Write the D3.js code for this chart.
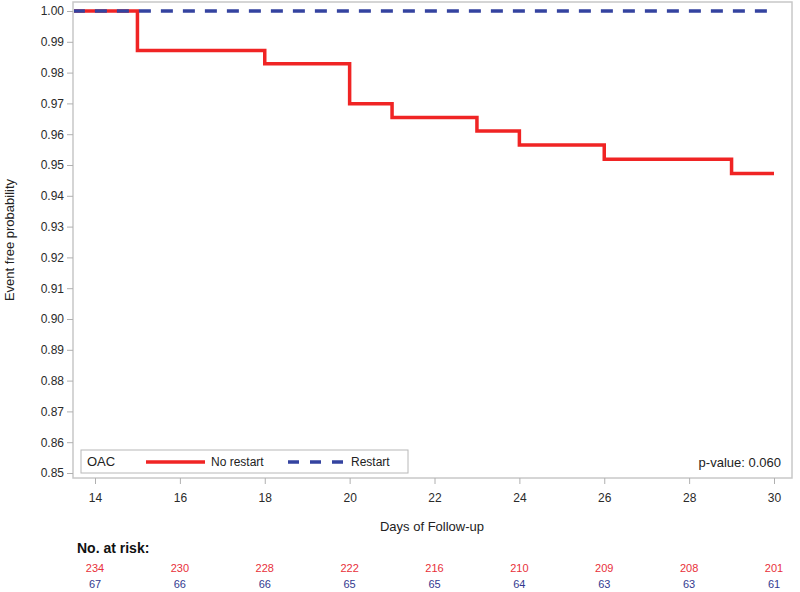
<!DOCTYPE html>
<html><head><meta charset="utf-8">
<script src="https://cdn.jsdelivr.net/npm/d3@7"></script>
<style>body{margin:0;background:#fff;} text{font-family:"Liberation Sans",Arial,sans-serif;}</style>
</head><body>
<svg id="c" width="800" height="592"></svg>
<script>
// Data
const noRestartTimes = [0, 15, 18, 20, 21, 23, 24, 26, 29, 30];
const noRestartSurv  = [1.0, 0.9872, 0.9829, 0.9699, 0.9654, 0.9610, 0.9565, 0.9519, 0.9472, 0.9472];
const restartTimes = [0, 30];
const restartSurv  = [1.0, 1.0];
const xTicks = [14, 16, 18, 20, 22, 24, 26, 28, 30];
const yTicks = [0.85,0.86,0.87,0.88,0.89,0.90,0.91,0.92,0.93,0.94,0.95,0.96,0.97,0.98,0.99,1.00];
const riskNoRestart = [234, 230, 228, 222, 216, 210, 209, 208, 201];
const riskRestart   = [67, 66, 66, 65, 65, 64, 63, 63, 61];

const svg = d3.select("#c");
const pL = 73, pR = 792, pT = 2, pB = 478;
const x = d3.scaleLinear().domain([14, 30]).range([95, 774]);
const y = d3.scaleLinear().domain([0.85, 1.0]).range([473, 11]);

const red = "#f02424", blue = "#3443a0";

svg.append("defs").append("clipPath").attr("id", "clip")
  .append("rect").attr("x", pL + 1).attr("y", pT).attr("width", pR - pL - 1).attr("height", pB - pT);

// frame
svg.append("rect").attr("x", pL).attr("y", pT).attr("width", pR-pL).attr("height", pB-pT)
  .attr("fill", "none").attr("stroke", "#c8c8c8").attr("stroke-width", 1.5);

// y axis
const yAxis = d3.axisLeft(y).tickValues(yTicks).tickFormat(d3.format(".2f")).tickSize(6).tickPadding(3);
const gy = svg.append("g").attr("transform", `translate(${pL},0)`).call(yAxis);
gy.select(".domain").remove();
gy.selectAll(".tick line").attr("stroke", "#b0b0b0");
gy.selectAll(".tick text").attr("font-size", 12).attr("fill", "#2a2a2a").style("font-family", "'Liberation Sans',Arial,sans-serif");

// x axis
const xAxis = d3.axisBottom(x).tickValues(xTicks).tickFormat(d3.format("d")).tickSize(6).tickPadding(9);
const gx = svg.append("g").attr("transform", `translate(0,${pB})`).call(xAxis);
gx.select(".domain").remove();
gx.selectAll(".tick line").attr("stroke", "#b0b0b0");
gx.selectAll(".tick text").attr("font-size", 12).attr("fill", "#2a2a2a").style("font-family", "'Liberation Sans',Arial,sans-serif");

// axis titles
svg.append("text").attr("x", 432).attr("y", 531).attr("text-anchor", "middle")
  .attr("font-size", 13).attr("fill", "#222").text("Days of Follow-up");
svg.append("text").attr("transform", "translate(14,240) rotate(-90)").attr("text-anchor", "middle")
  .attr("font-size", 13).attr("fill", "#222").text("Event free probability");

// curves
const line = d3.line().x(d => x(d[0])).y(d => y(d[1])).curve(d3.curveStepAfter);
const gc = svg.append("g").attr("clip-path", "url(#clip)");
gc.append("path").datum(noRestartTimes.map((t,i)=>[t, noRestartSurv[i]]))
  .attr("d", line).attr("fill", "none").attr("stroke", red).attr("stroke-width", 3.5);
gc.append("path").datum(restartTimes.map((t,i)=>[t, restartSurv[i]]))
  .attr("d", line).attr("fill", "none").attr("stroke", blue).attr("stroke-width", 3.5)
  .attr("stroke-dasharray", "12,10").attr("stroke-dashoffset", 0);

// legend
const lg = svg.append("g");
lg.append("rect").attr("x", 81).attr("y", 450).attr("width", 327).attr("height", 23)
  .attr("fill", "#fff").attr("stroke", "#b8b8b8").attr("stroke-width", 1);
lg.append("text").attr("x", 87).attr("y", 466).attr("font-size", 13).attr("fill", "#222").text("OAC");
lg.append("line").attr("x1", 146).attr("x2", 205).attr("y1", 462).attr("y2", 462)
  .attr("stroke", red).attr("stroke-width", 3.5);
lg.append("text").attr("x", 211).attr("y", 466).attr("font-size", 12).attr("fill", "#222").text("No restart");
lg.append("line").attr("x1", 288).attr("x2", 344).attr("y1", 462).attr("y2", 462)
  .attr("stroke", blue).attr("stroke-width", 3.5).attr("stroke-dasharray", "11,11");
lg.append("text").attr("x", 351).attr("y", 466).attr("font-size", 12).attr("fill", "#222").text("Restart");

// p-value
svg.append("text").attr("x", 781).attr("y", 467).attr("text-anchor", "end")
  .attr("font-size", 13).attr("fill", "#222").text("p-value: 0.060");

// at risk
svg.append("text").attr("x", 77).attr("y", 553).attr("font-size", 14).attr("font-weight", "bold")
  .attr("fill", "#111").text("No. at risk:");
svg.selectAll(".rr").data(riskNoRestart).join("text").attr("class", "rr")
  .attr("x", (d,i) => x(xTicks[i])).attr("y", 572).attr("text-anchor", "middle")
  .attr("font-size", 11).attr("fill", "#e8303a").text(d => d);
svg.selectAll(".rb").data(riskRestart).join("text").attr("class", "rb")
  .attr("x", (d,i) => x(xTicks[i])).attr("y", 588).attr("text-anchor", "middle")
  .attr("font-size", 11).attr("fill", "#333a90").text(d => d);
</script>
</body></html>
